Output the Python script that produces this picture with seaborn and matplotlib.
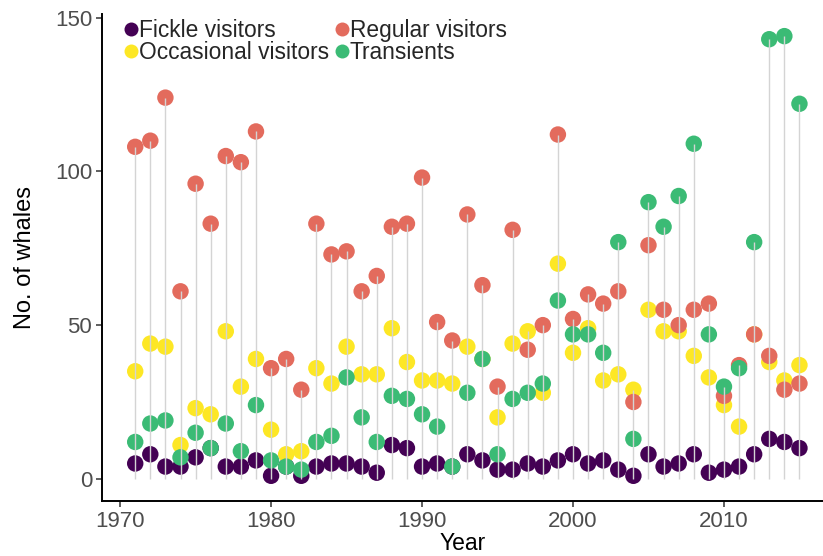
import numpy as np
import pandas as pd
import matplotlib
matplotlib.use("Agg")
import matplotlib.pyplot as plt
import seaborn as sns

# Annual counts of whales by residency class
years = list(range(1971, 2016))

fickle = [5, 8, 4, 4, 7, 10, 4, 4, 6, 1, 4, 1, 4, 5, 5, 4, 2, 11, 10, 4,
          5, 4, 8, 6, 3, 3, 5, 4, 6, 8, 5, 6, 3, 1, 8, 4, 5, 8, 2, 3,
          4, 8, 13, 12, 10]
occasional = [35, 44, 43, 11, 23, 21, 48, 30, 39, 16, 8, 9, 36, 31, 43, 34, 34, 49, 38, 32,
              32, 31, 43, 39, 20, 44, 48, 28, 70, 41, 49, 32, 34, 29, 55, 48, 48, 40, 33, 24,
              17, 47, 38, 32, 37]
regular = [108, 110, 124, 61, 96, 83, 105, 103, 113, 36, 39, 29, 83, 73, 74, 61, 66, 82, 83, 98,
           51, 45, 86, 63, 30, 81, 42, 50, 112, 52, 60, 57, 61, 25, 76, 55, 50, 55, 57, 27,
           37, 47, 40, 29, 31]
transients = [12, 18, 19, 7, 15, 10, 18, 9, 24, 6, 4, 3, 12, 14, 33, 20, 12, 27, 26, 21,
              17, 4, 28, 39, 8, 26, 28, 31, 58, 47, 47, 41, 77, 13, 90, 82, 92, 109, 47, 30,
              36, 77, 143, 144, 122]

groups = ["Fickle visitors", "Occasional visitors", "Regular visitors", "Transients"]
colors = ["#440154", "#FDE725", "#E36B5D", "#3BBB75"]

wide = pd.DataFrame({"Year": years,
                     groups[0]: fickle,
                     groups[1]: occasional,
                     groups[2]: regular,
                     groups[3]: transients})
long = wide.melt(id_vars="Year", var_name="Group", value_name="Count")

sns.set_theme(style="ticks")
plt.rcParams["font.family"] = ["Liberation Sans", "DejaVu Sans"]

fig = plt.figure(figsize=(8.23, 5.56), dpi=100)
ax = fig.add_axes([102 / 823, 55 / 556, 721 / 823, 487 / 556])

sns.scatterplot(data=long, x="Year", y="Count", hue="Group", hue_order=groups,
                palette=dict(zip(groups, colors)), s=140, linewidth=0,
                alpha=1, zorder=2, ax=ax)

# stems from zero to the largest count of each year, drawn over the dots
ymax = wide[groups].max(axis=1)
ax.vlines(wide["Year"], 0, ymax, color="#d4d4d4", linewidth=1.0, zorder=3)

ax.set_xlim(1968.8, 2016.56)
ax.set_ylim(-7.2, 151.2)
ax.set_xticks([1970, 1980, 1990, 2000, 2010])
ax.set_yticks([0, 50, 100, 150])

ax.set_xlabel("Year", fontsize=16.5, color="black", labelpad=0.5)
ax.set_ylabel("No. of whales", fontsize=17, color="black", labelpad=14)
ax.tick_params(axis="both", labelsize=16, colors="#4d4d4d", length=4, width=1.1, pad=3)
ax.tick_params(axis="both", color="#333333")

for side in ["top", "right"]:
    ax.spines[side].set_visible(False)
for side in ["left", "bottom"]:
    ax.spines[side].set_linewidth(1.4)
    ax.spines[side].set_color("black")

handles, labels = ax.get_legend_handles_labels()
ax.legend(handles, labels, ncol=2, loc="upper left",
          bbox_to_anchor=(0.026, 0.99), frameon=False, fontsize=16.4,
          handletextpad=-0.1, columnspacing=0.1, labelspacing=-0.02,
          handlelength=0.9, borderpad=0.0, borderaxespad=0.0,
          markerscale=0.85)

fig.savefig("out.png", dpi=100)
